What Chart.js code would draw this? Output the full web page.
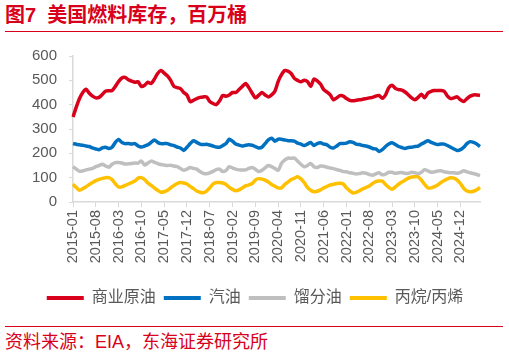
<!DOCTYPE html>
<html>
<head>
<meta charset="utf-8">
<script src="https://cdn.jsdelivr.net/npm/chart.js@4.4.1/dist/chart.umd.min.js"></script>
<style>
  html, body { margin: 0; padding: 0; background: #fff; }
  body { width: 509px; height: 355px; position: relative; overflow: hidden;
         font-family: "Liberation Sans", "Noto Sans CJK SC", sans-serif; }
  #title { position: absolute; left: 5px; top: 3px; font-size: 20px; font-weight: bold;
           color: #d9001b; white-space: pre; line-height: 24px; }
  #tline { position: absolute; left: 5px; top: 31px; width: 498px; height: 0;
           border-top: 1.5px solid #d9001b; }
  #fline { position: absolute; left: 5px; top: 326px; width: 498px; height: 0;
           border-top: 1.5px solid #d9001b; }
  #source { position: absolute; left: 5px; top: 331px; font-size: 18px; color: #d9001b;
            white-space: pre; line-height: 22px; }
  #wrap { position: absolute; left: 0; top: 35px; width: 509px; height: 283px; }
</style>
</head>
<body>
<div id="title">图7  美国燃料库存，百万桶</div>
<div id="tline"></div>
<div id="wrap"><canvas id="c"></canvas></div>
<div id="fline"></div>
<div id="source">资料来源：EIA，东海证券研究所</div>
<script>
// Monthly categories 2015-01 .. 2025-06
const startYear = 2015;
const months = [];
for (let i = 0; i < 126; i++) {
  const y = startYear + Math.floor(i / 12);
  const m = (i % 12) + 1;
  months.push(y + '-' + String(m).padStart(2, '0'));
}

const seriesNames = ['商业原油', '汽油', '馏分油', '丙烷/丙烯'];

const crude = [349,390,425,450,463,447,435,428,430,442,455,457,458,475,495,510,512,502,497,492,
  494,475,480,492,487,505,528,540,530,518,500,475,470,466,450,440,412,418,425,430,
  432,432,413,405,400,415,438,435,440,450,450,462,475,487,470,448,428,438,450,440,
  432,440,455,495,522,540,538,528,508,500,494,500,495,475,505,498,485,462,452,440,
  420,428,437,435,425,418,416,418,420,422,425,428,430,435,438,426,440,470,480,467,
  462,460,452,440,428,420,430,443,428,448,455,458,458,458,455,435,425,428,432,420,
  413,425,435,440,440,438];

const gasoline = [240,237,235,233,230,228,222,218,215,222,225,220,225,245,257,245,240,240,238,240,
  230,226,230,235,245,255,245,240,240,240,235,232,226,222,212,225,240,252,245,238,
  236,237,234,230,226,225,232,240,258,250,238,234,230,233,235,233,228,222,225,240,
  255,262,250,258,258,255,252,252,250,242,238,232,238,245,232,240,243,238,235,225,
  222,230,240,240,242,248,245,238,236,232,230,226,220,218,208,215,228,238,243,236,
  228,224,220,224,225,228,230,238,245,252,245,240,236,238,238,232,225,218,212,215,
  225,240,248,245,238,228];

const distillate = [145,135,126,128,132,135,138,145,150,155,148,143,155,162,162,160,156,157,158,160,
  160,168,152,160,168,163,158,154,152,150,151,148,145,138,130,135,142,138,135,125,
  118,116,120,126,133,135,125,130,145,140,135,132,131,132,138,142,135,125,130,140,
  150,145,138,130,158,172,180,180,180,168,155,145,150,158,145,142,148,147,143,140,
  137,133,130,125,124,120,118,115,117,120,118,113,110,116,120,112,115,122,122,118,
  120,121,118,118,122,120,116,122,133,128,122,124,127,128,124,122,120,120,118,122,
  128,124,120,117,113,108];

const propane = [73,60,48,55,63,72,80,88,93,97,100,100,92,75,62,62,68,74,80,86,
  98,100,92,78,68,58,48,40,42,48,58,68,76,80,78,74,64,55,45,40,
  38,45,58,74,80,80,78,72,60,52,46,50,58,66,70,76,90,96,94,90,
  82,72,65,58,58,72,82,92,98,104,95,80,60,48,42,44,50,58,64,70,
  73,76,77,74,58,46,37,40,46,54,60,66,76,84,86,86,72,60,52,62,
  73,82,90,98,103,104,104,90,72,58,58,63,70,80,88,95,100,98,90,76,
  56,45,42,44,50,60];

const yTicks = [0, 100, 200, 300, 400, 500, 600];
const labelEvery = 7;

const colors = ['#d9001b', '#0070c0', '#bfbfbf', '#ffc000'];
const values = [crude, gasoline, distillate, propane];

const FONT = '"Liberation Sans", "Noto Sans CJK SC", sans-serif';
const axisColor = '#d9d9d9';
const textColor = '#595959';

new Chart(document.getElementById('c'), {
  type: 'line',
  data: {
    labels: months,
    datasets: seriesNames.map((n, i) => ({
      label: n,
      data: values[i],
      borderColor: colors[i],
      backgroundColor: colors[i],
      borderWidth: 3.5,
      pointRadius: 0,
      tension: 0.25,
      fill: false
    }))
  },
  options: {
    responsive: true,
    maintainAspectRatio: false,
    animation: false,
    layout: { padding: { left: 30, right: 29, top: 2, bottom: 2 } },
    plugins: {
      legend: {
        position: 'bottom',
        labels: {
          boxWidth: 37, boxHeight: 4, padding: 8,
          color: textColor,
          font: { family: FONT, size: 16 },
          generateLabels: (chart) => {
            const items = Chart.defaults.plugins.legend.labels.generateLabels(chart);
            items.forEach(it => { it.lineWidth = 0; });
            return items;
          }
        }
      },
      tooltip: { enabled: false }
    },
    scales: {
      x: {
        type: 'category',
        offset: false,
        grid: {
          drawOnChartArea: false, drawTicks: true, tickLength: 5,
          color: (ctx) => (ctx.index % labelEvery === 0 ? axisColor : 'rgba(0,0,0,0)')
        },
        border: { color: axisColor, width: 1.5 },
        ticks: {
          autoSkip: false, maxRotation: 90, minRotation: 90, padding: 3,
          color: textColor, font: { family: FONT, size: 14.5 },
          callback: function(v, i) { return i % labelEvery === 0 ? this.getLabelForValue(v) : ''; }
        },
        afterFit: (s) => { s.height = 80; }
      },
      y: {
        min: 0, max: 600,
        afterBuildTicks: (s) => { s.ticks = yTicks.map(v => ({ value: v })); },
        grid: { drawOnChartArea: false, drawTicks: true, tickLength: 4, color: axisColor },
        border: { color: axisColor, width: 1.5 },
        ticks: { color: textColor, font: { family: FONT, size: 15 }, padding: 12 },
        afterFit: (s) => { s.width = 43; }
      }
    }
  }
});
</script>
</body>
</html>
